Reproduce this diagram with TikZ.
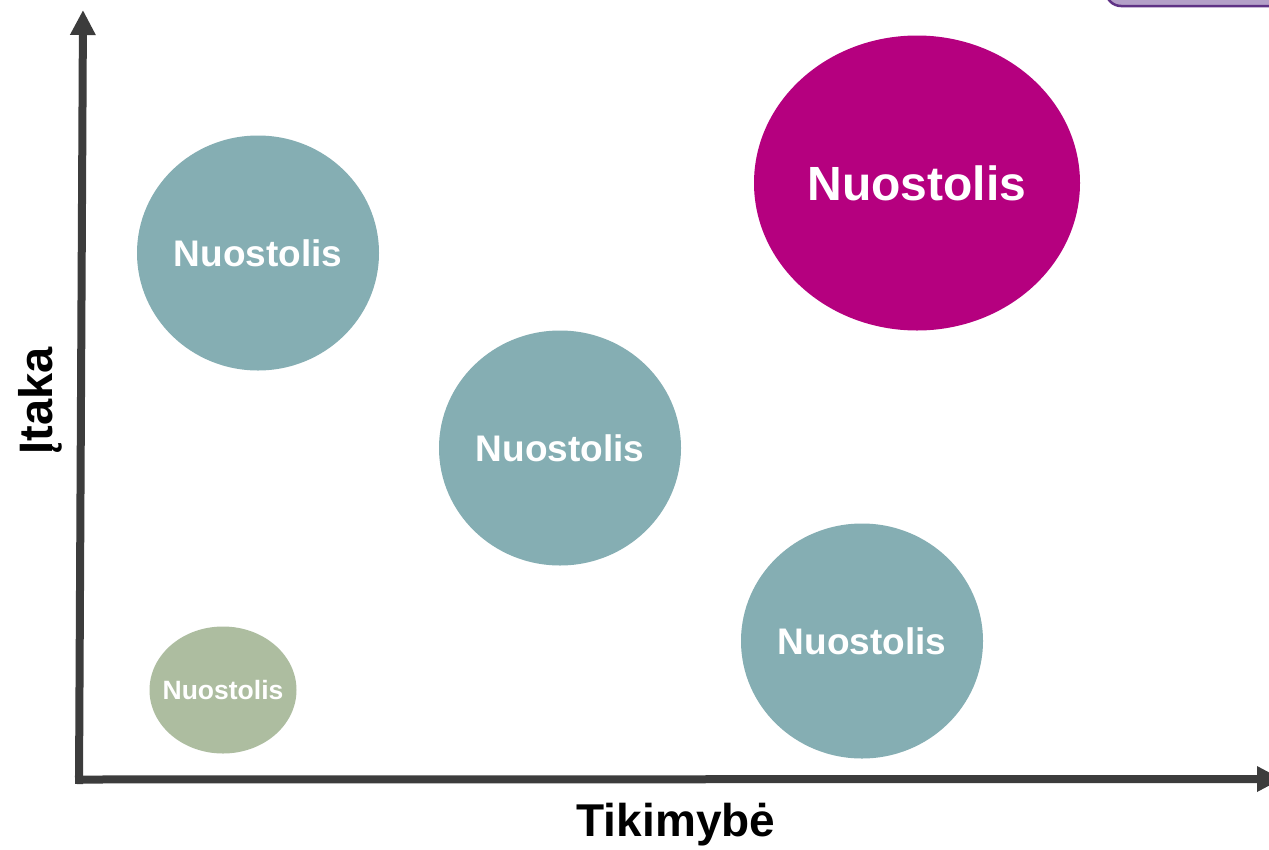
\documentclass[tikz,border=0pt]{standalone}
\usepackage{fontspec}
\setmainfont{Liberation Sans}
\usetikzlibrary{shapes.geometric,arrows.meta}
\definecolor{sarcelle}{HTML}{85AEB3}
\definecolor{magenta}{HTML}{B5007F}
\definecolor{sauge}{HTML}{ADBDA0}
\definecolor{anthracite}{HTML}{3C3C3C}
\definecolor{lilas}{HTML}{B4A0C8}
\definecolor{violet}{HTML}{5F3285}
\begin{document}
\begin{tikzpicture}[x=1pt,y=-1pt]
\tikzstyle{axe}=[-{Triangle[width=24pt,length=25pt]},line width=8pt,draw=anthracite]
\tikzset{risque/.style={ellipse,fill=#1,inner sep=0pt,text=white,font=\bfseries\fontsize{37}{40}\selectfont},
risque/.default={sarcelle}}
\useasboundingbox (0,0) rectangle (1269,849);
\fill[white] (0,0) rectangle (1269,849);

\draw[rounded corners=15pt,fill=lilas,draw=violet,line width=2.5pt] (1106,-40) rectangle (1320,6);

\node[risque,minimum width=242pt,minimum height=235pt] (R1) at (258,253) {Nuostolis};
\node[risque=magenta,minimum width=326pt,minimum height=295pt,font=\bfseries\fontsize{48}{52}\selectfont] (R2) at (917,183) {Nuostolis};
\node[risque,minimum width=242pt,minimum height=235pt] (R3) at (560,448) {Nuostolis};
\node[risque,minimum width=242pt,minimum height=235pt] (R4) at (862,641) {Nuostolis};
\node[risque=sauge,inner sep=-20pt,minimum width=147pt,minimum height=127pt,font=\bfseries\fontsize{26.5}{28}\selectfont] (R5) at (223,690) {Nuostolis};

\coordinate (Ybas) at (79,784);
\coordinate (Yhaut) at (83,10);
\coordinate (Xgauche) at (75,779.5);
\coordinate (Xdroite) at (1282,779);
\draw[axe] (Ybas) -- (Yhaut);
\draw[axe] (Xgauche) -- (Xdroite);

\node[anchor=base,font=\bfseries\fontsize{46}{50}\selectfont] (X) at (676,836) {Tikimybė};
\node[anchor=base,rotate=90,font=\bfseries\fontsize{47}{50}\selectfont] (Y) at (52,401) {Įtaka};

\end{tikzpicture}
\end{document}
